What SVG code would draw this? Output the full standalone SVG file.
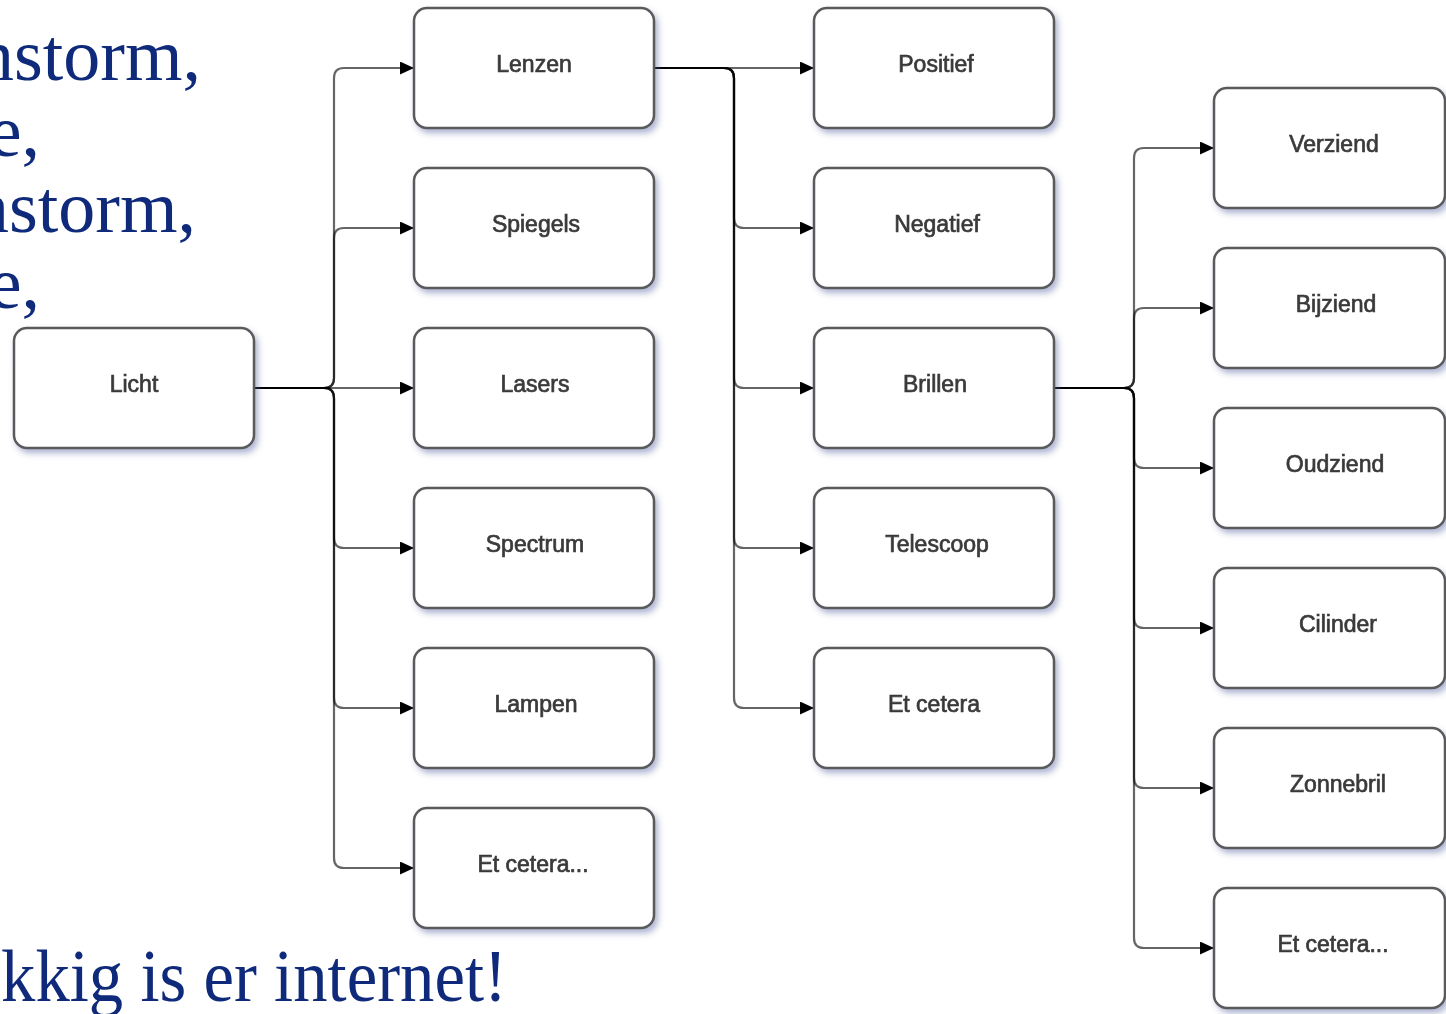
<svg xmlns="http://www.w3.org/2000/svg" width="1446" height="1014" viewBox="0 0 1446 1014">
  <style>
    .slide { font-family: Georgia, "Liberation Serif", "DejaVu Serif", serif; font-size: 74px; fill: #0f2a7a; }
    .box { fill: #ffffff; stroke: #5a5a5a; stroke-width: 2.5; }
    .lbl { font-family: "Liberation Sans", Arial, sans-serif; font-size: 23px; fill: #3a3a3a; stroke: #3a3a3a; stroke-width: 0.7; text-anchor: middle; }
    .edge { fill: none; stroke: #000000; stroke-opacity: 0.6; stroke-width: 2.2; }
  </style>
  <defs>
    <filter id="shadow" x="-10%" y="-10%" width="130%" height="140%">
      <feGaussianBlur in="SourceAlpha" stdDeviation="3"/>
      <feOffset dx="3" dy="4" result="b"/>
      <feFlood flood-color="#4a5a9a" flood-opacity="0.45"/>
      <feComposite in2="b" operator="in"/>
      <feMerge><feMergeNode/><feMergeNode in="SourceGraphic"/></feMerge>
    </filter>
    <marker id="arrow" markerUnits="userSpaceOnUse" markerWidth="14" markerHeight="13" refX="14" refY="6.5" orient="auto">
      <path d="M0,0 L14,6.5 L0,13 z" fill="#000"/>
    </marker>
  </defs>
  <rect width="1446" height="1014" fill="#ffffff"/>

  <!-- slide text behind the chart, running off the left edge -->
  <g id="slide-text">
    <text class="slide" x="201" y="80" text-anchor="end">nstorm,</text>
    <text class="slide" x="40" y="156" text-anchor="end">e,</text>
    <text class="slide" x="196" y="232" text-anchor="end">nstorm,</text>
    <text class="slide" x="40" y="308" text-anchor="end">e,</text>
    <text class="slide" x="1" y="1001" font-size="70" textLength="506" lengthAdjust="spacingAndGlyphs">kkig is er internet!</text>
  </g>

  <!-- connectors -->
  <g id="connectors">
    <!-- Licht to second column -->
    <path class="edge" marker-end="url(#arrow)" d="M254,388 H324 Q334,388 334,378 V78 Q334,68 344,68 H414"/>
    <path class="edge" marker-end="url(#arrow)" d="M254,388 H324 Q334,388 334,378 V238 Q334,228 344,228 H414"/>
    <path class="edge" marker-end="url(#arrow)" d="M254,388 H414"/>
    <path class="edge" marker-end="url(#arrow)" d="M254,388 H324 Q334,388 334,398 V538 Q334,548 344,548 H414"/>
    <path class="edge" marker-end="url(#arrow)" d="M254,388 H324 Q334,388 334,398 V698 Q334,708 344,708 H414"/>
    <path class="edge" marker-end="url(#arrow)" d="M254,388 H324 Q334,388 334,398 V858 Q334,868 344,868 H414"/>
    <!-- Lenzen to third column -->
    <path class="edge" marker-end="url(#arrow)" d="M654,68 H814"/>
    <path class="edge" marker-end="url(#arrow)" d="M654,68 H724 Q734,68 734,78 V218 Q734,228 744,228 H814"/>
    <path class="edge" marker-end="url(#arrow)" d="M654,68 H724 Q734,68 734,78 V378 Q734,388 744,388 H814"/>
    <path class="edge" marker-end="url(#arrow)" d="M654,68 H724 Q734,68 734,78 V538 Q734,548 744,548 H814"/>
    <path class="edge" marker-end="url(#arrow)" d="M654,68 H724 Q734,68 734,78 V698 Q734,708 744,708 H814"/>
    <!-- Brillen to fourth column -->
    <path class="edge" marker-end="url(#arrow)" d="M1054,388 H1124 Q1134,388 1134,378 V158 Q1134,148 1144,148 H1214"/>
    <path class="edge" marker-end="url(#arrow)" d="M1054,388 H1124 Q1134,388 1134,378 V318 Q1134,308 1144,308 H1214"/>
    <path class="edge" marker-end="url(#arrow)" d="M1054,388 H1124 Q1134,388 1134,398 V458 Q1134,468 1144,468 H1214"/>
    <path class="edge" marker-end="url(#arrow)" d="M1054,388 H1124 Q1134,388 1134,398 V618 Q1134,628 1144,628 H1214"/>
    <path class="edge" marker-end="url(#arrow)" d="M1054,388 H1124 Q1134,388 1134,398 V778 Q1134,788 1144,788 H1214"/>
    <path class="edge" marker-end="url(#arrow)" d="M1054,388 H1124 Q1134,388 1134,398 V938 Q1134,948 1144,948 H1214"/>
  </g>

  <!-- nodes -->
  <g id="licht" filter="url(#shadow)"><rect class="box" x="14" y="328" width="240" height="120" rx="13"/><text class="lbl" x="134" y="392">Licht</text></g>

  <g id="lenzen" filter="url(#shadow)"><rect class="box" x="414" y="8" width="240" height="120" rx="13"/><text class="lbl" x="534" y="72">Lenzen</text></g>
  <g id="spiegels" filter="url(#shadow)"><rect class="box" x="414" y="168" width="240" height="120" rx="13"/><text class="lbl" x="536" y="232">Spiegels</text></g>
  <g id="lasers" filter="url(#shadow)"><rect class="box" x="414" y="328" width="240" height="120" rx="13"/><text class="lbl" x="535" y="392">Lasers</text></g>
  <g id="spectrum" filter="url(#shadow)"><rect class="box" x="414" y="488" width="240" height="120" rx="13"/><text class="lbl" x="535" y="552">Spectrum</text></g>
  <g id="lampen" filter="url(#shadow)"><rect class="box" x="414" y="648" width="240" height="120" rx="13"/><text class="lbl" x="536" y="712">Lampen</text></g>
  <g id="etcetera-1" filter="url(#shadow)"><rect class="box" x="414" y="808" width="240" height="120" rx="13"/><text class="lbl" x="533" y="872">Et cetera...</text></g>

  <g id="positief" filter="url(#shadow)"><rect class="box" x="814" y="8" width="240" height="120" rx="13"/><text class="lbl" x="936" y="72">Positief</text></g>
  <g id="negatief" filter="url(#shadow)"><rect class="box" x="814" y="168" width="240" height="120" rx="13"/><text class="lbl" x="937" y="232">Negatief</text></g>
  <g id="brillen" filter="url(#shadow)"><rect class="box" x="814" y="328" width="240" height="120" rx="13"/><text class="lbl" x="935" y="392">Brillen</text></g>
  <g id="telescoop" filter="url(#shadow)"><rect class="box" x="814" y="488" width="240" height="120" rx="13"/><text class="lbl" x="937" y="552">Telescoop</text></g>
  <g id="etcetera-2" filter="url(#shadow)"><rect class="box" x="814" y="648" width="240" height="120" rx="13"/><text class="lbl" x="934" y="712">Et cetera</text></g>

  <g id="verziend" filter="url(#shadow)"><rect class="box" x="1214" y="88" width="231" height="120" rx="13"/><text class="lbl" x="1334" y="152">Verziend</text></g>
  <g id="bijziend" filter="url(#shadow)"><rect class="box" x="1214" y="248" width="231" height="120" rx="13"/><text class="lbl" x="1336" y="312">Bijziend</text></g>
  <g id="oudziend" filter="url(#shadow)"><rect class="box" x="1214" y="408" width="231" height="120" rx="13"/><text class="lbl" x="1335" y="472">Oudziend</text></g>
  <g id="cilinder" filter="url(#shadow)"><rect class="box" x="1214" y="568" width="231" height="120" rx="13"/><text class="lbl" x="1338" y="632">Cilinder</text></g>
  <g id="zonnebril" filter="url(#shadow)"><rect class="box" x="1214" y="728" width="231" height="120" rx="13"/><text class="lbl" x="1338" y="792">Zonnebril</text></g>
  <g id="etcetera-3" filter="url(#shadow)"><rect class="box" x="1214" y="888" width="231" height="120" rx="13"/><text class="lbl" x="1333" y="952">Et cetera...</text></g>
</svg>
